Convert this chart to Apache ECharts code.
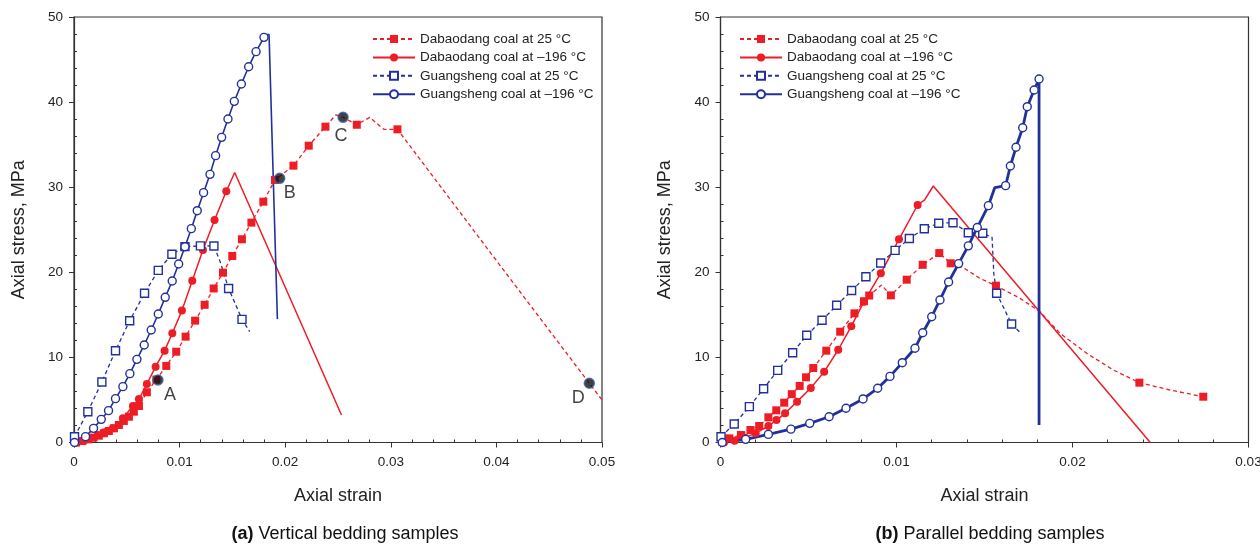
<!DOCTYPE html>
<html><head><meta charset="utf-8">
<script src="https://cdn.jsdelivr.net/npm/echarts@6/dist/echarts.min.js"></script>
<style>html,body{margin:0;padding:0;background:#fff}#c{width:1260px;height:545px}</style>
</head><body><div id="c"></div>
<script>
const seriesNames = ['Dabaodang coal at 25 °C', 'Dabaodang coal at –196 °C', 'Guangsheng coal at 25 °C', 'Guangsheng coal at –196 °C'];
const xTicksA = [0, 0.01, 0.02, 0.03, 0.04, 0.05];
const xTicksB = [0, 0.01, 0.02, 0.03];
const yTicks = [0, 10, 20, 30, 40, 50];

// (a) Vertical bedding samples
const aDb25Strain = [0.0002,0.00078,0.00131,0.00185,0.00235,0.00283,0.0033,0.00378,0.00425,0.00472,0.0052,0.00567,0.00615,0.0069,0.0078,0.00874,0.00968,0.01057,0.01147,0.01237,0.01323,0.01411,0.01499,0.0159,0.0168,0.01793,0.01903,0.02078,0.02223,0.02381,0.0248,0.02548,0.02678,0.02801,0.02934,0.03063,0.0395,0.0488,0.05];
const aDb25Stress = [0,0.18,0.37,0.57,0.8,1.08,1.35,1.67,2.06,2.53,3.03,3.62,4.29,5.9,7.4,9.0,10.67,12.44,14.32,16.18,18.1,19.96,21.92,23.88,25.84,28.3,30.85,32.53,34.88,37.11,38.5,38.21,37.34,38.21,36.8,36.8,22.2,6.96,5.0];
const aDb25Unmarked = [30,31,33,34,36,37,38];

const aDb196Strain = [0.0002,0.001,0.00163,0.00226,0.00289,0.00368,0.00463,0.00558,0.00615,0.0069,0.00773,0.00858,0.00931,0.01022,0.0112,0.01221,0.01331,0.01442,0.01522,0.02533];
const aDb196Stress = [0,0.29,0.57,0.88,1.2,1.67,2.84,4.29,5.11,6.87,8.91,10.79,12.83,15.5,19.02,22.62,26.15,29.52,31.72,3.23];
const aDb196Unmarked = [18,19];

const aGs25Strain = [0.00005,0.00131,0.00264,0.00393,0.00527,0.00668,0.00798,0.00927,0.01051,0.01197,0.01325,0.01385,0.01464,0.01591,0.01664];
const aGs25Stress = [0.68,3.62,7.11,10.79,14.31,17.53,20.23,22.12,23.02,23.1,23.09,21.2,18.1,14.47,13.02];
const aGs25Unmarked = [11,14];

const aGs196Strain = [0.00005,0.00109,0.00185,0.00258,0.00327,0.00393,0.00463,0.00529,0.00596,0.00665,0.00731,0.00798,0.00864,0.0093,0.00991,0.01051,0.01111,0.01167,0.01227,0.01288,0.01341,0.01398,0.01458,0.01518,0.01585,0.01654,0.01724,0.01799,0.01822,0.01847,0.01926];
const aGs196Stress = [0,0.69,1.66,2.72,3.74,5.15,6.56,8.09,9.77,11.46,13.22,15.1,17.06,18.98,20.98,23.01,25.13,27.24,29.36,31.51,33.71,35.86,38.01,40.09,42.13,44.16,45.93,47.61,47.95,47.95,14.5];
const aGs196Unmarked = [28,29,30];

const stageNames = ['A','B','C','D'];
const stageStrain = [0.00795,0.01948,0.02548,0.0488];
const stageStress = [7.34,31.04,38.21,6.96];

// (b) Parallel bedding samples
const bDb25Strain = [0.0001,0.0005,0.00116,0.0017,0.0022,0.00272,0.00317,0.00362,0.00405,0.0045,0.00486,0.00527,0.00601,0.0068,0.00761,0.00815,0.00845,0.00915,0.00968,0.01058,0.01149,0.01243,0.01308,0.0138,0.01474,0.01565,0.01702,0.01815,0.01929,0.02081,0.02232,0.0238,0.02554,0.02743];
const bDb25Stress = [0.1,0.49,0.88,1.47,1.94,2.96,3.78,4.68,5.68,6.65,7.66,8.75,10.79,13.02,15.18,16.6,17.27,18.5,17.29,19.13,20.88,22.26,21.06,20.54,19.29,18.43,16.94,15.37,12.83,10.48,8.52,7.03,6.17,5.38];
const bDb25Unmarked = [17,23,24,26,27,28,29,30,32];

const bDb196Strain = [0.0002,0.0008,0.0014,0.002,0.00272,0.00318,0.00367,0.00435,0.00513,0.00589,0.00669,0.00743,0.00815,0.00911,0.01014,0.0112,0.0116,0.01209,0.02442];
const bDb196Stress = [0,0.2,0.55,1.1,1.94,2.64,3.43,4.8,6.4,8.3,10.9,13.65,16.55,19.9,23.88,27.91,28.5,30.14,0];
const bDb196Unmarked = [16,17,18];

const bGs25Strain = [0.00003,0.00078,0.00164,0.00245,0.00325,0.0041,0.0049,0.00577,0.0066,0.00745,0.00826,0.0091,0.00992,0.01073,0.01158,0.0124,0.01321,0.01408,0.0149,0.01543,0.01553,0.01569,0.01654,0.01698];
const bGs25Stress = [0.68,2.17,4.21,6.32,8.48,10.55,12.6,14.36,16.12,17.86,19.48,21.1,22.58,23.97,25.12,25.77,25.83,24.65,24.58,24.1,19.8,17.53,13.92,13.02];
const bGs25Unmarked = [19,20,23];

const bGs196Strain = [0.0001,0.00143,0.00272,0.004,0.00507,0.00617,0.00713,0.0081,0.00893,0.00963,0.01033,0.01105,0.01149,0.012,0.01247,0.01296,0.01353,0.01408,0.01459,0.01522,0.01558,0.0162,0.01647,0.01679,0.01717,0.01743,0.01782,0.0181,0.0181];
const bGs196Stress = [0,0.37,0.95,1.57,2.25,3.03,4.02,5.12,6.37,7.77,9.38,11.07,12.9,14.78,16.75,18.86,21.02,23.11,25.26,27.83,29.94,30.18,32.49,34.69,36.99,39.46,41.42,42.71,2.06];
const bGs196Unmarked = [20,28];

// ---------- styling / construction ----------
const RED = '#ee1c25', BLUE = '#22319a', INK = '#222', AXIS = '#333';
const FONT = '"Liberation Sans", Arial, Helvetica, sans-serif';
const DASH = [4, 3];

function pts(xs, ys, unmarked) {
  return xs.map((x, i) => unmarked.includes(i) ? { value: [x, ys[i]], symbol: 'none' } : [x, ys[i]]);
}
const styles = [
  { symbol: 'rect', lineStyle: { color: RED, width: 1.3, type: DASH }, itemStyle: { color: RED } },
  { symbol: 'circle', lineStyle: { color: RED, width: 1.5, type: 'solid' }, itemStyle: { color: RED } },
  { symbol: 'rect', lineStyle: { color: BLUE, width: 1.3, type: DASH }, itemStyle: { color: '#fff', borderColor: BLUE, borderWidth: 1.4 } },
  { symbol: 'circle', lineStyle: { color: BLUE, width: 1.6, type: 'solid' }, itemStyle: { color: '#fff', borderColor: BLUE, borderWidth: 1.4 } }
];
function mk(idx, k, data, extraWidth) {
  const s = styles[k];
  return {
    type: 'line', name: seriesNames[k], xAxisIndex: idx, yAxisIndex: idx, data: data,
    symbol: s.symbol, symbolSize: 8, showSymbol: true,
    lineStyle: Object.assign({}, s.lineStyle, extraWidth ? { width: extraWidth } : {}),
    itemStyle: s.itemStyle, animation: false, z: 3
  };
}
function xAx(idx, max) {
  return {
    gridIndex: idx, type: 'value', min: 0, max: max, interval: 0.01,
    name: 'Axial strain', nameLocation: 'middle', nameGap: 45,
    nameTextStyle: { fontSize: 18, color: INK, fontFamily: FONT },
    axisLine: { show: true, onZero: false, lineStyle: { color: AXIS, width: 1.2 } },
    axisTick: { show: true, inside: false, length: 5, lineStyle: { color: AXIS, width: 1 } },
    minorTick: { show: true, splitNumber: 5, length: -3, lineStyle: { color: AXIS, width: 1 } },
    splitLine: { show: false }, minorSplitLine: { show: false },
    axisLabel: { fontSize: 13.5, color: INK, margin: 13, fontFamily: FONT, formatter: v => String(+v.toFixed(3)) }
  };
}
function yAx(idx) {
  return {
    gridIndex: idx, type: 'value', min: 0, max: 50, interval: 10,
    name: 'Axial stress, MPa', nameLocation: 'middle', nameGap: 46,
    nameTextStyle: { fontSize: 18, color: INK, fontFamily: FONT },
    axisLine: { show: true, onZero: false, lineStyle: { color: AXIS, width: 1.2 } },
    axisTick: { show: true, inside: false, length: 5, lineStyle: { color: AXIS, width: 1 } },
    minorTick: { show: true, splitNumber: 5, length: -3, lineStyle: { color: AXIS, width: 1 } },
    splitLine: { show: false }, minorSplitLine: { show: false },
    axisLabel: { fontSize: 13.5, color: INK, margin: 11, fontFamily: FONT }
  };
}
const labelOffsets = [[12, 15], [10, 15], [-2, 19], [-11, 15]];
const stageData = stageNames.map((n, i) => ({
  name: n, value: [stageStrain[i], stageStress[i]],
  label: { show: true, position: 'inside', offset: labelOffsets[i], formatter: '{b}', fontSize: 18, color: '#111', fontFamily: FONT }
}));

const legendBase = {
  orient: 'vertical', top: 27, itemWidth: 42, itemHeight: 10, itemGap: 4.4, data: seriesNames,
  textStyle: { fontSize: 13.5, color: INK, fontFamily: FONT }, selectedMode: false
};

const option = {
  backgroundColor: '#fff',
  animation: false,
  textStyle: { fontFamily: FONT },
  title: [
    { text: '{b|(a)} Vertical bedding samples', left: 340, top: 520, textAlign: 'center',
      textStyle: { fontSize: 18, fontWeight: 'normal', color: '#111', fontFamily: FONT, rich: { b: { fontSize: 18, fontWeight: 'bold', color: '#111', fontFamily: FONT } } } },
    { text: '{b|(b)} Parallel bedding samples', left: 985, top: 520, textAlign: 'center',
      textStyle: { fontSize: 18, fontWeight: 'normal', color: '#111', fontFamily: FONT, rich: { b: { fontSize: 18, fontWeight: 'bold', color: '#111', fontFamily: FONT } } } }
  ],
  legend: [
    Object.assign({}, legendBase, { left: 367 }),
    Object.assign({}, legendBase, { left: 734 })
  ],
  grid: [
    { left: 74, width: 528, top: 17, height: 425.5, show: true, borderColor: AXIS, borderWidth: 1.2, backgroundColor: 'transparent', outerBoundsMode: 'none' },
    { left: 720.5, width: 528, top: 17, height: 425.5, show: true, borderColor: AXIS, borderWidth: 1.2, backgroundColor: 'transparent', outerBoundsMode: 'none' }
  ],
  xAxis: [xAx(0, xTicksA[xTicksA.length - 1]), xAx(1, xTicksB[xTicksB.length - 1])],
  yAxis: [yAx(0), yAx(1)],
  series: [
    mk(0, 0, pts(aDb25Strain, aDb25Stress, aDb25Unmarked)),
    mk(0, 1, pts(aDb196Strain, aDb196Stress, aDb196Unmarked)),
    mk(0, 2, pts(aGs25Strain, aGs25Stress, aGs25Unmarked)),
    mk(0, 3, pts(aGs196Strain, aGs196Stress, aGs196Unmarked)),
    { type: 'scatter', name: 'stages', xAxisIndex: 0, yAxisIndex: 0, data: stageData, symbol: 'circle', symbolSize: 10,
      itemStyle: { color: '#111', borderColor: '#3b5fa8', borderWidth: 1.5 }, z: 5, animation: false },
    mk(1, 0, pts(bDb25Strain, bDb25Stress, bDb25Unmarked)),
    mk(1, 1, pts(bDb196Strain, bDb196Stress, bDb196Unmarked)),
    mk(1, 2, pts(bGs25Strain, bGs25Stress, bGs25Unmarked)),
    mk(1, 3, pts(bGs196Strain, bGs196Stress, bGs196Unmarked), 2.8)
  ]
};
const chart = echarts.init(document.getElementById('c'), null, { renderer: 'canvas' });
chart.setOption(option);
</script>
</body></html>
